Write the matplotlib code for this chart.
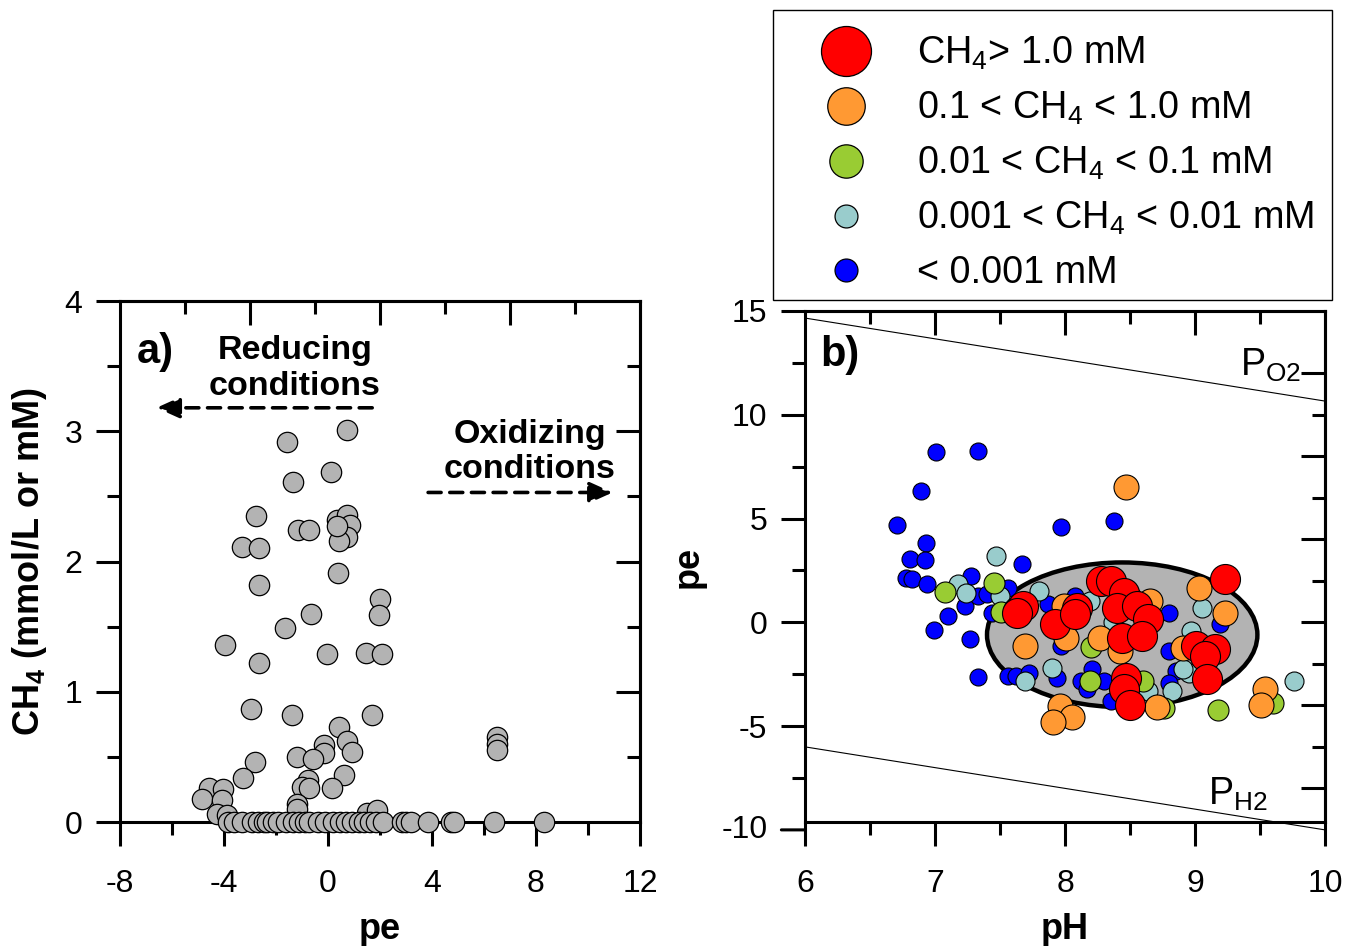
import matplotlib
matplotlib.use('Agg')
import matplotlib.pyplot as plt
from matplotlib.patches import Ellipse, Rectangle
from matplotlib.lines import Line2D
import numpy as np

plt.rcParams['font.family'] = ['Liberation Sans', 'DejaVu Sans']
plt.rcParams['mathtext.fontset'] = 'custom'
plt.rcParams['mathtext.rm'] = 'Liberation Sans'
plt.rcParams['mathtext.bf'] = 'Liberation Sans:bold'
plt.rcParams['mathtext.it'] = 'Liberation Sans:italic'
plt.rcParams['axes.unicode_minus'] = False

# ---------------- Panel a data: pe vs CH4 (mM) ----------------
pe_a = [-1.59, 0.74, -1.33, 0.12, -2.77, -3.32, -2.64, -1.14, -0.72, 0.33, 0.72, 0.85,
        0.72, 0.44, 0.36, -2.64, 0.37, 2.0, 1.95, -0.67, -1.64, -3.97, -2.64, -0.05,
        1.45, 2.06, -2.96, -1.37, 1.68, 0.42, 0.72, 0.94, -0.14, -0.14, -1.21, -0.59,
        -2.81, -3.26, 0.63, -0.76, -1.01, -0.72, 0.14, -4.56, -4.03, -4.83, -4.09,
        -1.21, -1.18, -4.26, -3.9, 1.49, 1.87, 6.5, 6.5, 6.5,
        -3.86, -3.6, -3.3, -2.93, -2.7, -2.45, -2.33, -2.13, -1.93, -1.6, -1.33, -1.13,
        -0.9, -0.73, -0.4, -0.13, 0.2, 0.47, 0.7, 0.93, 1.2, 1.40, 1.6, 1.86, 2.13,
        2.86, 3.0, 3.2, 3.86, 4.72, 4.86, 6.4, 8.3]
ch4_a = [2.92, 3.01, 2.61, 2.69, 2.35, 2.11, 2.10, 2.24, 2.24, 2.32, 2.36, 2.28,
         2.19, 2.16, 2.27, 1.82, 1.91, 1.71, 1.59, 1.60, 1.49, 1.36, 1.22, 1.29,
         1.30, 1.29, 0.87, 0.82, 0.82, 0.73, 0.62, 0.54, 0.59, 0.53, 0.50, 0.48,
         0.46, 0.34, 0.36, 0.32, 0.27, 0.26, 0.26, 0.26, 0.25, 0.18, 0.17,
         0.14, 0.10, 0.06, 0.05, 0.07, 0.09, 0.65, 0.60, 0.55,
         0, 0, 0, 0, 0, 0, 0, 0, 0, 0, 0, 0,
         0, 0, 0, 0, 0, 0, 0, 0, 0, 0, 0, 0, 0,
         0, 0, 0, 0, 0, 0, 0, 0]

# ---------------- Panel b data: pH vs pe by CH4 class ----------------
ph_blue = [7.01, 7.33, 6.89, 6.71, 6.93, 7.97, 8.38, 6.81, 6.92, 6.78, 6.82, 6.94,
           7.28, 7.67, 7.23, 7.10, 6.99, 7.27, 7.33, 7.33, 7.40, 7.56, 7.44, 7.87,
           7.56, 7.62, 7.72, 7.94, 8.12, 8.21, 8.30, 8.17, 7.97, 8.08, 8.80, 8.80,
           8.85, 8.80, 9.19, 8.35, 8.06]
pe_blue = [8.19, 8.27, 6.35, 4.71, 3.83, 4.58, 4.87, 3.06, 3.00, 2.15, 2.07, 1.83,
           2.23, 2.79, 0.78, 0.30, -0.38, -0.82, -2.63, 1.26, 1.35, 1.67, 0.47, 0.90,
           -2.58, -2.58, -2.42, -2.66, -2.82, -2.26, -2.82, -3.22, -1.14, 1.26, 0.47, -1.38,
           -2.34, -2.90, -0.10, -3.78, 0.30]

ph_lblue = [7.47, 7.18, 7.24, 7.50, 7.80, 8.19, 7.90, 7.69, 9.05, 8.97, 8.95, 8.82,
            9.76, 8.64, 8.37, 8.91]
pe_lblue = [3.19, 1.83, 1.43, 1.26, 1.50, 1.02, -2.18, -2.82, 0.71, -0.42, -2.42, -3.30,
            -2.85, -3.30, 0.00, -2.26]

ph_green = [7.08, 7.45, 7.51, 8.20, 8.19, 8.60, 9.18, 9.60, 8.76]
pe_green = [1.46, 1.88, 0.50, -1.17, -2.82, -2.82, -4.23, -3.89, -4.15]

ph_orange = [8.47, 9.03, 9.23, 7.69, 8.01, 8.27, 8.42, 8.65, 7.99, 8.91, 7.96, 8.05,
             7.91, 8.71, 9.54, 9.51, 8.50]
pe_orange = [6.50, 1.67, 0.43, -1.14, -0.77, -0.74, -1.38, 1.02, 0.78, -1.22, -4.02, -4.58,
             -4.82, -4.10, -3.22, -3.99, 1.11]

ph_red = [7.64, 7.68, 7.63, 7.92, 8.09, 8.08, 8.28, 8.35, 8.45, 8.40, 8.55, 8.64,
          8.44, 8.59, 9.23, 9.01, 9.15, 9.08, 9.09, 8.47, 8.45, 8.50]
pe_red = [0.55, 0.78, 0.45, -0.10, 0.71, 0.38, 1.98, 1.98, 1.43, 0.71, 0.78, 0.14,
          -0.74, -0.66, 2.10, -1.14, -1.30, -1.62, -2.74, -2.66, -3.22, -3.99]

legend_labels = ['CH$_4$> 1.0 mM', '0.1 < CH$_4$ < 1.0 mM', '0.01 < CH$_4$ < 0.1 mM',
                 '0.001 < CH$_4$ < 0.01 mM', '< 0.001 mM']
class_colors = ['#ff0000', '#ff9933', '#99cc33', '#99cccc', '#0000ff']

# stability lines (pe = a - pH)
ph_line = [6, 10]
pe_o2 = [14.66, 10.66]
pe_h2 = [-6.0, -10.0]

# ellipse (centre pH, centre pe, width, height)
ell_c = (8.44, -0.6)
ell_w, ell_h = 2.08, 6.97

# ---------------- Figure ----------------
fig = plt.figure(figsize=(13.48, 9.46), dpi=100)
axa = fig.add_axes([120/1348, 1-822/946, 520/1348, 521/946])
axb = fig.add_axes([805/1348, 1-822/946, 520/1348, 511/946])

MAJ, MIN, TW, SW = 17, 9.5, 2.2, 2.2
TFS = 23

for ax in (axa, axb):
    for s in ax.spines.values():
        s.set_linewidth(SW)
    ax.tick_params(which='both', direction='out', width=TW, top=False, right=False,
                   labelsize=TFS)
    ax.tick_params(which='major', length=MAJ)
    ax.tick_params(which='minor', length=MIN)
    ax.tick_params(axis='x', pad=17)
    ax.tick_params(axis='y', pad=10)

# ----- panel a -----
axa.scatter(pe_a, ch4_a, s=215, c='#b3b3b3', edgecolors='black', linewidths=0.9,
            zorder=3, clip_on=False)
axa.set_xlim(-8, 12)
axa.set_ylim(0, 4)
axa.set_xticks([-8, -4, 0, 4, 8, 12])
axa.set_xticks([-6, -2, 2, 6, 10], minor=True)
axa.set_yticks([0, 1, 2, 3, 4])
axa.set_yticks([0.5, 1.5, 2.5, 3.5], minor=True)

sta = axa.secondary_xaxis('top')
sta.set_xticks([-3, 2, 7])
sta.set_xticks([-5.5, -0.5, 4.5, 9.5], minor=True)
sta.tick_params(which='both', direction='in', width=TW, labeltop=False)
sta.tick_params(which='major', length=MAJ)
sta.tick_params(which='minor', length=MIN)
sta.spines['top'].set_linewidth(SW)

sra = axa.secondary_yaxis('right')
sra.set_yticks([1, 2, 3])
sra.set_yticks([0.5, 1.5, 2.5, 3.5], minor=True)
sra.tick_params(which='both', direction='in', width=TW, labelright=False)
sra.tick_params(which='major', length=MAJ)
sra.tick_params(which='minor', length=MIN)
sra.spines['right'].set_linewidth(SW)

axa.set_xlabel('pe', fontsize=26, fontweight='bold')
axa.xaxis.set_label_coords(0.5, -(912-822)/521)
axa.set_ylabel('CH$_\\mathbf{4}$ (mmol/L or mM)', fontsize=26, fontweight='bold')
axa.yaxis.set_label_coords((49-120)/520, 0.5)

axa.text(17/520, (822-352)/521, 'a)', transform=axa.transAxes, fontsize=30,
         fontweight='bold', ha='left', va='center')
axa.text(-1.27, 3.48, 'Reducing\nconditions', fontsize=24.5, fontweight='bold',
         ha='center', va='center', linespacing=1.2)
axa.text(7.77, 2.84, 'Oxidizing\nconditions', fontsize=24.5, fontweight='bold',
         ha='center', va='center', linespacing=1.2)
arrow_kw = dict(arrowstyle='-|>,head_length=1.0,head_width=0.45', linestyle=(0, (3.6, 2.4)),
                lw=2.6, color='black', shrinkA=0, shrinkB=0, mutation_scale=14)
axa.annotate('', xy=(-6.6, 3.18), xytext=(1.7, 3.18), arrowprops=arrow_kw)
axa.annotate('', xy=(10.95, 2.53), xytext=(3.85, 2.53), arrowprops=arrow_kw)

# ----- panel b -----
axb.add_patch(Ellipse(ell_c, ell_w, ell_h, facecolor='#b3b3b3', edgecolor='black',
                      lw=3.2, zorder=1))
axb.plot(ph_line, pe_o2, color='black', lw=0.8, zorder=2)
axb.plot(ph_line, pe_h2, color='black', lw=0.8, zorder=2, clip_on=False)
sizes = [467, 324, 229, 187, 150]
series = [(ph_blue, pe_blue, 4), (ph_lblue, pe_lblue, 3), (ph_green, pe_green, 2),
          (ph_orange, pe_orange, 1), (ph_red, pe_red, 0)]
for xs, ys, k in series:
    axb.scatter(xs, ys, s=sizes[k], c=class_colors[k], edgecolors='black',
                linewidths=0.8, zorder=3 + (4 - k))
axb.set_xlim(6, 10)
axb.set_ylim(-9.62, 15)
axb.set_xticks([6, 7, 8, 9, 10])
axb.set_xticks([6.5, 7.5, 8.5, 9.5], minor=True)
axb.set_yticks([-5, 0, 5, 10, 15])
axb.set_yticks([-7.5, -2.5, 2.5, 7.5, 12.5], minor=True)
# the -10 tick lies just below the frame in the original
axb.annotate('', xy=(0, -10), xycoords=('axes fraction', 'data'), xytext=(-MAJ, 0),
             textcoords='offset points', annotation_clip=False,
             arrowprops=dict(arrowstyle='-', lw=TW, shrinkA=0, shrinkB=0, color='black'))
axb.annotate('-10', xy=(0, -10), xycoords=('axes fraction', 'data'),
             xytext=(-(MAJ + 10), 0), textcoords='offset points', ha='right',
             va='center', fontsize=TFS, annotation_clip=False)

stb = axb.secondary_xaxis('top')
stb.set_xticks([7, 8, 9])
stb.set_xticks([6.5, 7.5, 8.5, 9.5], minor=True)
stb.tick_params(which='both', direction='in', width=TW, labeltop=False)
stb.tick_params(which='major', length=MAJ)
stb.tick_params(which='minor', length=MIN)
stb.spines['top'].set_linewidth(SW)

srb = axb.secondary_yaxis('right')
srb.set_yticks([-8, -4, 0, 4, 8, 12])
srb.set_yticks([-6, -2, 2, 6, 10], minor=True)
srb.tick_params(which='both', direction='in', width=TW, labelright=False)
srb.tick_params(which='major', length=MAJ)
srb.tick_params(which='minor', length=MIN)
srb.spines['right'].set_linewidth(SW)

axb.set_xlabel('pH', fontsize=26, fontweight='bold')
axb.xaxis.set_label_coords(0.5, -(912-822)/511)
axb.set_ylabel('pe', fontsize=26, fontweight='bold')
axb.yaxis.set_label_coords((706-805)/520, 0.5)
axb.text(15/520, (822-355)/511, 'b)', transform=axb.transAxes, fontsize=30,
         fontweight='bold', ha='left', va='center')
axb.text(9.35, 12.4, 'P$_{\\mathrm{O2}}$', fontsize=27, ha='left', va='center')
axb.text(9.1, -8.27, 'P$_{\\mathrm{H2}}$', fontsize=27, ha='left', va='center')

# ----- legend -----
leg_ms = [36, 27, 24, 16.5, 16.5]
handles = [Line2D([], [], linestyle='none', marker='o', markersize=leg_ms[i],
                  markerfacecolor=class_colors[i], markeredgecolor='black',
                  markeredgewidth=0.9) for i in range(5)]
fig.patches.append(Rectangle((773/1348, 1-300/946), 559/1348, 290/946,
                             transform=fig.transFigure, fill=True, facecolor='white',
                             edgecolor='black', lw=1.0, zorder=0))
leg = fig.legend(handles, legend_labels, loc='upper left',
                 bbox_to_anchor=(773/1348, 1-16/946), fontsize=27.2, frameon=False,
                 borderpad=0.5, labelspacing=0.47,
                 handlelength=2.85, handletextpad=0.46, borderaxespad=0)

fig.savefig('out.png', dpi=100)
